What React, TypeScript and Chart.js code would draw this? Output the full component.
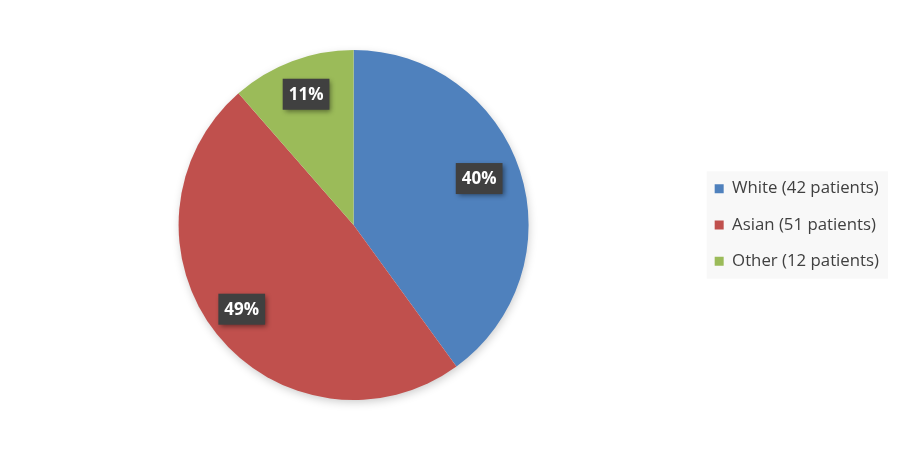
import React, { useEffect, useRef } from "react";
import { Chart, registerables } from "chart.js";

Chart.register(...registerables);

const categories = ["White (42 patients)", "Asian (51 patients)", "Other (12 patients)"];
const values = [42, 51, 12];
const percentLabels = ["40%", "49%", "11%"];
const colors = ["#4f81bd", "#c0504d", "#9bbb59"];
const labelRadius = [0.765, 0.8, 0.795];
const labelAngleShift = [-2.3, 1.6, 0.6];

const labelPlugin = {
  id: "boxLabels",
  beforeDraw(chart: any) {
    const legend = chart.legend;
    if (legend && legend.legendHitBoxes && legend.legendHitBoxes.length) {
      const hb = legend.legendHitBoxes;
      const left = Math.min(...hb.map((b: any) => b.left));
      const right = Math.max(...hb.map((b: any) => b.left + b.width));
      const top = Math.min(...hb.map((b: any) => b.top));
      const bottom = Math.max(...hb.map((b: any) => b.top + b.height));
      const ctx = chart.ctx;
      ctx.save();
      ctx.fillStyle = "#f8f8f8";
      ctx.fillRect(left - 8, top - 9, right - left + 17, bottom - top + 18);
      ctx.restore();
    }
  },
  beforeDatasetsDraw(chart: any) {
    const meta = chart.getDatasetMeta(0);
    const arc = meta.data[0];
    if (!arc) return;
    const { x, y, outerRadius } = arc.getProps(["x", "y", "outerRadius"], true);
    const ctx = chart.ctx;
    ctx.save();
    ctx.shadowColor = "rgba(0,0,0,0.22)";
    ctx.shadowBlur = 10;
    ctx.shadowOffsetX = 1;
    ctx.shadowOffsetY = 3;
    ctx.fillStyle = "#ffffff";
    ctx.beginPath();
    ctx.arc(x, y, outerRadius - 1, 0, Math.PI * 2);
    ctx.fill();
    ctx.restore();
  },
  afterDatasetsDraw(chart: any) {
    const ctx = chart.ctx;
    const meta = chart.getDatasetMeta(0);
    ctx.save();
    meta.data.forEach((arc: any, i: number) => {
      const { x, y, startAngle, endAngle, outerRadius } = arc.getProps(
        ["x", "y", "startAngle", "endAngle", "outerRadius"],
        true
      );
      const mid = (startAngle + endAngle) / 2 + (labelAngleShift[i] * Math.PI) / 180;
      const r = outerRadius * labelRadius[i];
      const cx = x + Math.cos(mid) * r;
      const cy = y + Math.sin(mid) * r;
      const text = percentLabels[i];
      ctx.font = "bold 17px 'Open Sans', sans-serif";
      const w = ctx.measureText(text).width + 12;
      const h = 31;
      ctx.shadowColor = "rgba(0,0,0,0.45)";
      ctx.shadowBlur = 5;
      ctx.shadowOffsetX = 2;
      ctx.shadowOffsetY = 2;
      ctx.fillStyle = "#404040";
      ctx.fillRect(cx - w / 2, cy - h / 2, w, h);
      ctx.shadowColor = "transparent";
      ctx.fillStyle = "#ffffff";
      ctx.textAlign = "center";
      ctx.textBaseline = "middle";
      ctx.fillText(text, cx, cy + 1);
    });
    ctx.restore();
  },
};

export default function App() {
  const ref = useRef<HTMLCanvasElement>(null);
  useEffect(() => {
    if (!ref.current) return;
    const chart = new Chart(ref.current, {
      type: "pie",
      data: {
        labels: categories,
        datasets: [
          {
            data: values,
            backgroundColor: colors,
            borderWidth: 0,
          },
        ],
      },
      options: {
        animation: false,
        responsive: false,
        layout: { padding: { top: 50, bottom: 50, left: 12, right: 11 } },
        plugins: {
          tooltip: { enabled: false },
          legend: {
            position: "right",
            align: "center",
            labels: {
              boxWidth: 9,
              boxHeight: 9,
              padding: 19.5,
              color: "#404040",
              font: { family: "'Open Sans', sans-serif", size: 16.8 },
            },
          },
        },
      },
      plugins: [labelPlugin],
    });
    return () => chart.destroy();
  }, []);
  return (
    <div style={{ position: "absolute", left: 0, top: 0, width: 900, height: 450, background: "#fff" }}>
      <canvas ref={ref} width={900} height={450} style={{ width: 900, height: 450 }} />
    </div>
  );
}
